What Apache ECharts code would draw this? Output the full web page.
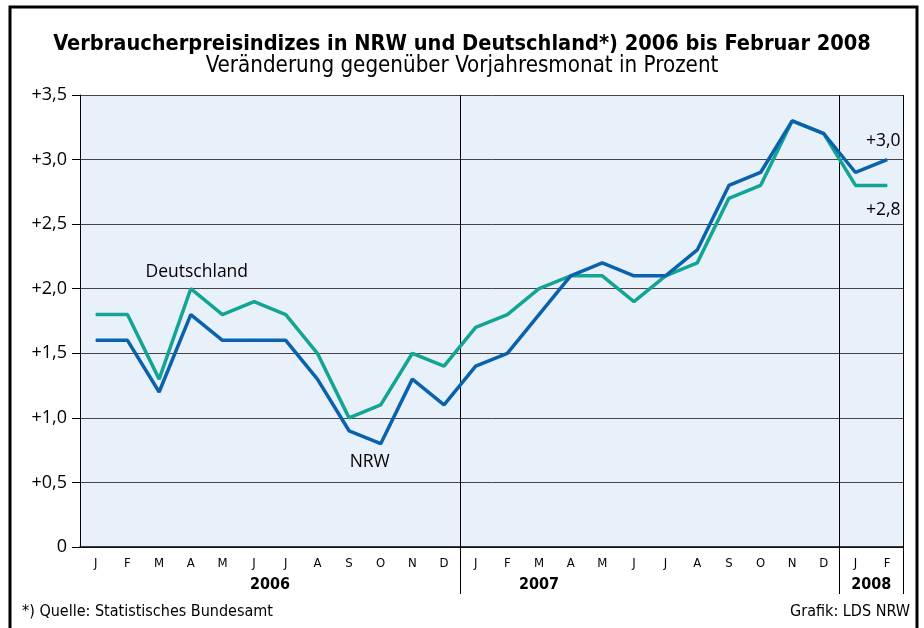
<!DOCTYPE html>
<html>
<head>
<meta charset="utf-8">
<script src="https://cdn.jsdelivr.net/npm/echarts@6/dist/echarts.min.js"></script>
<style>
    html, body { margin: 0; padding: 0; background: #fff; }
    #chart { width: 924px; height: 628px; }
</style>
</head>
<body>
<div id="chart"></div>
<script>
    // Monate Jan 2006 bis Feb 2008
    const months = ['J','F','M','A','M','J','J','A','S','O','N','D',
                    'J','F','M','A','M','J','J','A','S','O','N','D',
                    'J','F'];
    const nrw = [1.6, 1.6, 1.2, 1.8, 1.6, 1.6, 1.6, 1.3, 0.9, 0.8, 1.3, 1.1,
                 1.4, 1.5, 1.8, 2.1, 2.2, 2.1, 2.1, 2.3, 2.8, 2.9, 3.3, 3.2,
                 2.9, 3.0];
    const deutschland = [1.8, 1.8, 1.3, 2.0, 1.8, 1.9, 1.8, 1.5, 1.0, 1.1, 1.5, 1.4,
                         1.7, 1.8, 2.0, 2.1, 2.1, 1.9, 2.1, 2.2, 2.7, 2.8, 3.3, 3.2,
                         2.8, 2.8];
    const years = ['2006', '2007', '2008'];

    const font = '"Open Sans", "DejaVu Sans", sans-serif';
    const narrow = '"Liberation Sans Narrow", "DejaVu Sans Condensed", "Open Sans", sans-serif';

    function fmtY(v) {
        if (v === 0) return '0';
        return '+' + v.toFixed(1).replace('.', ',');
    }

    // Beschriftung einzelner Punkte
    function withLabels(values, labels) {
        return values.map((v, i) => labels[i] ? { value: v, label: labels[i] } : v);
    }

    let mChart = echarts.init(document.getElementById('chart'));
    let options = {
        animation: false,
        title: [
            {
                text: 'Verbraucherpreisindizes in NRW und Deutschland*) 2006 bis Februar 2008',
                left: 'center',
                top: 28,
                textStyle: { fontFamily: narrow, fontSize: 21.6, fontWeight: 'bold', color: '#000' }
            },
            {
                text: 'Veränderung gegenüber Vorjahresmonat in Prozent',
                left: 'center',
                top: 50,
                textStyle: { fontFamily: narrow, fontSize: 22.2, fontWeight: 'normal', color: '#000' }
            }
        ],
        grid: {
            left: 80,
            right: 21,
            top: 95,
            bottom: 81,
            show: true,
            backgroundColor: '#e8f0fa',
            borderWidth: 0
        },
        xAxis: {
            type: 'category',
            data: months,
            boundaryGap: true,
            axisLine: { show: true, lineStyle: { color: '#000', width: 1.5 } },
            axisTick: {
                show: true,
                length: 47,
                interval: (i) => i === 12 || i === 24,
                lineStyle: { color: '#000', width: 1 }
            },
            axisLabel: {
                fontFamily: narrow,
                fontSize: 13,
                color: '#000',
                margin: 10,
                interval: 0
            },
            splitLine: {
                show: true,
                interval: (i) => i === 12 || i === 24,
                lineStyle: { color: '#000', width: 1 }
            }
        },
        yAxis: {
            type: 'value',
            min: 0,
            max: 3.5,
            interval: 0.5,
            axisLine: { show: true, lineStyle: { color: '#000', width: 1 } },
            axisTick: { show: true, length: 8, lineStyle: { color: '#000' } },
            axisLabel: {
                formatter: fmtY,
                fontFamily: font,
                fontSize: 18,
                color: '#000',
                margin: 13
            },
            splitLine: { show: true, lineStyle: { color: '#444', width: 1 } }
        },
        series: [
            {
                name: 'Deutschland',
                type: 'line',
                symbol: 'circle',
                symbolSize: 1,
                itemStyle: { color: '#12a593' },
                lineStyle: { color: '#12a593', width: 3.5 },
                label: { fontFamily: font, fontSize: 17.5, color: '#000' },
                data: withLabels(deutschland, {
                    3: { show: true, position: 'top', formatter: 'Deutschland', offset: [6, -2] },
                    25: { show: true, position: 'bottom', formatter: '+2,8', offset: [-4, 10] }
                }),
                z: 2
            },
            {
                name: 'NRW',
                type: 'line',
                symbol: 'circle',
                symbolSize: 1,
                itemStyle: { color: '#0a62ad' },
                lineStyle: { color: '#0a62ad', width: 3.5 },
                label: { fontFamily: font, fontSize: 17.5, color: '#000' },
                data: withLabels(nrw, {
                    9: { show: true, position: 'bottom', formatter: 'NRW', offset: [-11, 4] },
                    25: { show: true, position: 'top', formatter: '+3,0', offset: [-4, -4] }
                }),
                z: 3
            }
        ]
    };
    mChart.setOption(options);

    // Jahreszahlen mittig zwischen zwei Monaten
    const yearAnchor = [[5, 6], [14, 14], [24, 25]];
    const px = (i) => mChart.convertToPixel({ xAxisIndex: 0 }, i);
    const graphics = years.map((y, k) => ({
        type: 'text',
        x: (px(yearAnchor[k][0]) + px(yearAnchor[k][1])) / 2,
        y: 585,
        style: {
            text: y,
            fontFamily: narrow,
            fontSize: 16,
            fontWeight: 'bold',
            fill: '#000',
            align: 'center',
            verticalAlign: 'middle'
        }
    }));
    graphics.push(
        {
            type: 'text', left: 22, top: 604,
            style: { text: '*) Quelle: Statistisches Bundesamt', fontFamily: narrow, fontSize: 16, fill: '#000' }
        },
        {
            type: 'text', right: 14, top: 604,
            style: { text: 'Grafik: LDS NRW', fontFamily: narrow, fontSize: 16, fill: '#000' }
        },
        {
            type: 'rect', silent: true,
            shape: { x: 10, y: 7, width: 907, height: 630 },
            style: { fill: 'none', stroke: '#000', lineWidth: 3 }
        }
    );
    mChart.setOption({ graphic: graphics });
</script>
</body>
</html>
